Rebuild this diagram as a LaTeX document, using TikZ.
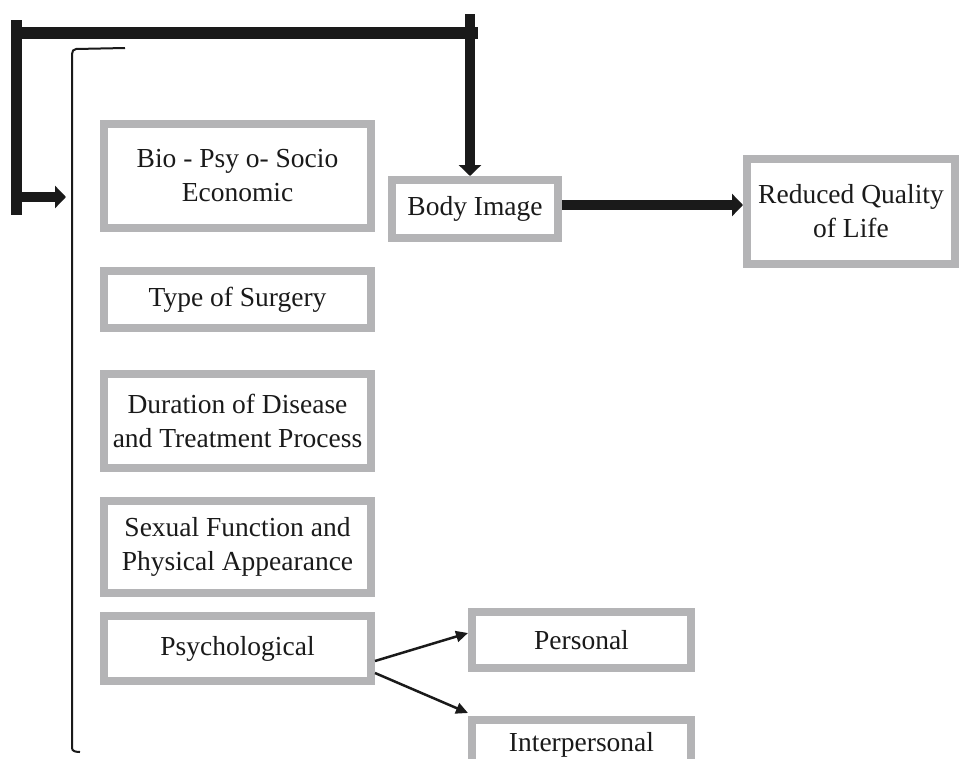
\documentclass[tikz,border=0pt]{standalone}
\usepackage{fontspec}
\setmainfont{Liberation Serif}
\usetikzlibrary{arrows.meta}
\definecolor{boxgray}{HTML}{B4B4B6}
\definecolor{ink}{HTML}{1A1A1A}
\tikzset{
  gbox/.style={draw=boxgray, line width=8pt, fill=white, inner sep=0pt, align=center,
    font=\fontsize{27.5}{34}\selectfont, text=ink},
  thick bar/.style={draw=ink, line width=11pt},
  bigarrow/.style={draw=ink, line width=10pt, -{Triangle[length=11pt,width=22pt]}},
  thinarrow/.style={draw=ink, line width=2.5pt, -{Triangle[length=12pt,width=11pt]}},
  bracket/.style={draw=ink, line width=2pt}
}
\begin{document}
\begin{tikzpicture}[x=1pt,y=-1pt]
\useasboundingbox (0,0) rectangle (961,758);
% boxes
\node[gbox, minimum width=267pt, minimum height=104pt] (bio) at (237.5,176) {Bio - Psy o- Socio\\Economic};
\node[gbox, minimum width=166pt, minimum height=58pt] (body) at (475,209) {Body Image};
\node[gbox, minimum width=208pt, minimum height=105pt] (rql) at (851,211.5) {Reduced Quality\\of Life};
\node[gbox, minimum width=267pt, minimum height=57pt] (type) at (237.5,299.5) {Type of Surgery};
\node[gbox, minimum width=267pt, minimum height=94pt] (dur) at (237.5,421) {Duration of Disease\\and Treatment Process};
\node[gbox, minimum width=267pt, minimum height=92pt] (sex) at (237.5,547) {Sexual Function and\\Physical Appearance};
\node[gbox, minimum width=267pt, minimum height=65pt] (psy) at (237.5,648.5) {Psychological};
\node[gbox, minimum width=219pt, minimum height=56pt] (pers) at (581.5,640) {Personal};
\node[gbox, minimum width=219pt, minimum height=50pt] (inter) at (581.5,745) {Interpersonal};
% thin bracket
\coordinate (bt) at (125,48);
\coordinate (bb) at (80,752);
\draw[bracket] (bt) -- (76,49) to[out=180,in=90] (72,54) -- (72,748) to[out=-90,in=180] (bb);
% thick feedback loop
\coordinate (tr) at (478,33);
\coordinate (ltop) at (16,20);
\coordinate (lbot) at (16,215);
\coordinate (rtop) at (470,14);
\coordinate (larr) at (16,197);
\coordinate (lend) at (66,197);
\draw[thick bar, line width=12pt] (11,33) -- (tr);
\draw[thick bar] (ltop) -- (lbot);
\draw[bigarrow] (rtop) -- (body.north -| rtop);
\draw[bigarrow] (larr) -- (lend);
% body to quality of life
\draw[bigarrow] (body.east |- 0,205) -- (rql.west |- 0,205);
% psychological branches
\draw[thinarrow] (psy.east |- 0,661) -- (pers.west |- 0,633);
\draw[thinarrow] (psy.east |- 0,673) -- (pers.west |- 0,713);
\end{tikzpicture}
\end{document}
